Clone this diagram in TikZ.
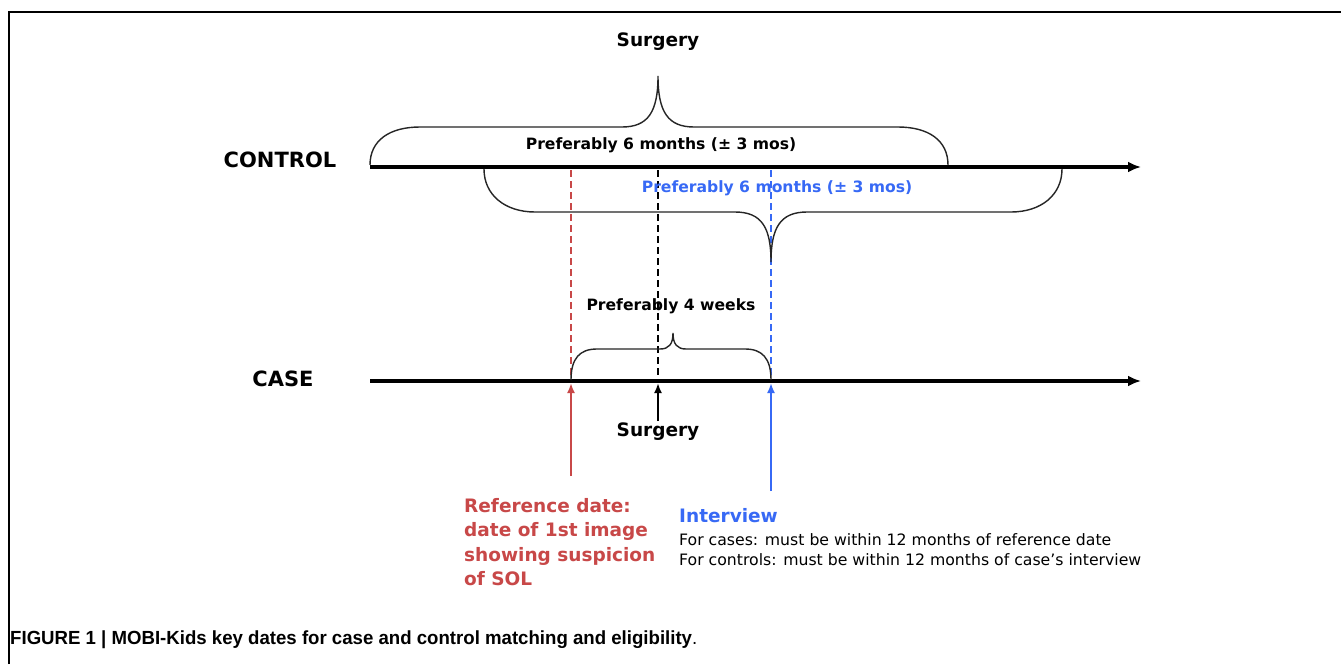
\documentclass[tikz,border=0pt]{standalone}
\usepackage{fontspec}
\setmainfont{DejaVu Sans}
\newfontfamily\capfont[FakeStretch=0.98]{Liberation Sans}
\usetikzlibrary{arrows.meta}
\definecolor{refred}{RGB}{200,72,72}
\definecolor{refblue}{RGB}{55,105,245}
\tikzset{
  axis/.style={line width=3.5pt,-{Latex[length=13pt,width=11pt]}},
  brace/.style={line width=1.4pt,black!85},
  dline/.style={line width=2pt,dash pattern=on 7pt off 4pt},
  uparrow/.style={line width=2.2pt,-{Latex[length=10pt,width=8pt]}},
  lab/.style={font=\bfseries\fontsize{21}{24}\selectfont,inner sep=0pt},
  mid/.style={font=\bfseries\fontsize{15.6}{19}\selectfont,inner sep=0pt},
  surg/.style={font=\bfseries\fontsize{18.5}{22}\selectfont,inner sep=0pt},
}
\begin{document}
\begin{tikzpicture}[x=1pt,y=-1pt]
\useasboundingbox (0,0) rectangle (1341,664);
\fill[white] (0,0) rectangle (1341,664);
% frame
\draw[line width=2pt] (9,664) -- (9,12) -- (1341,12);

% coordinates
\coordinate (cs) at (370,167);
\coordinate (ce) at (1141,167);
\coordinate (ks) at (370,381);
\coordinate (ke) at (1141,381);

% timelines
\draw[axis] (cs) -- (ce);
\draw[axis] (ks) -- (ke);

% labels
\node[lab] (control) at (280,160) {CONTROL};
\node[lab] (case) at (283,379) {CASE};
\node[surg] (surgtop) at (658,42) {Surgery};

% top brace
\draw[brace] (370,165) .. controls (370,140) and (390,127) .. (420,127) -- (622,127)
  .. controls (648,127) and (658,112) .. (658,76)
  .. controls (658,112) and (668,127) .. (694,127) -- (898,127)
  .. controls (928,127) and (948,140) .. (948,165);
\node[mid] (p6a) at (661,145) {Preferably 6 months (± 3 mos)};

% dashed verticals
\coordinate (rtop) at (571,170);
\coordinate (rbot) at (571,378);
\coordinate (ktop) at (658,170);
\coordinate (kbot) at (658,378);
\coordinate (btop) at (771,170);
\coordinate (bbot) at (771,378);
\draw[dline,refred] (rtop) -- (rbot);
\draw[dline,black] (ktop) -- (kbot);
\draw[dline,refblue] (btop) -- (bbot);

% lower control brace
\draw[brace] (484,169) .. controls (484,195) and (505,212) .. (535,212) -- (735,212)
  .. controls (762,212) and (771,228) .. (771,262)
  .. controls (771,228) and (780,212) .. (807,212) -- (1011,212)
  .. controls (1041,212) and (1062,195) .. (1062,169);
\node[mid,text=refblue] (p6b) at (777,188) {Preferably 6 months (± 3 mos)};

% case brace
\node[mid] (p4) at (671,306) {Preferably 4 weeks};
\draw[brace] (571,380) .. controls (571,358) and (580,349) .. (597,349) -- (660,349)
  .. controls (669,349) and (673,344) .. (673,333)
  .. controls (673,344) and (677,349) .. (686,349) -- (745,349)
  .. controls (762,349) and (771,358) .. (771,380);

% arrows up
\coordinate (ra) at (571,476);
\coordinate (ka) at (658,421);
\coordinate (ba) at (771,491);
\coordinate (rh) at (571,383);
\coordinate (kh) at (658,383);
\coordinate (bh) at (771,383);
\draw[uparrow,refred] (ra) -- (rh);
\draw[uparrow,black] (ka) -- (kh);
\draw[uparrow,refblue] (ba) -- (bh);

\node[surg] (surgbot) at (658,432) {Surgery};

% reference date text
\node[font=\bfseries\fontsize{18.5}{24.5}\selectfont,text=refred,align=left,anchor=north west,inner sep=0pt] (refdate) at (464,498)
  {Reference date:\\date of 1st image\\showing suspicion\\of SOL};

% interview text
\node[font=\bfseries\fontsize{18.5}{22}\selectfont,text=refblue,anchor=west,inner sep=0pt] (interview) at (679,516) {Interview};
\node[font=\fontsize{15.7}{20}\selectfont,anchor=north west,align=left,inner sep=0pt] (rules) at (679,533)
  {For cases: must be within 12 months of reference date\\For controls: must be within 12 months of case’s interview};

% caption
\node[font=\capfont\fontsize{19}{22}\selectfont,anchor=west,inner sep=0pt] (caption) at (10,640)
  {\textbf{FIGURE 1 | MOBI-Kids key dates for case and control matching and eligibility}.};
\end{tikzpicture}
\end{document}
